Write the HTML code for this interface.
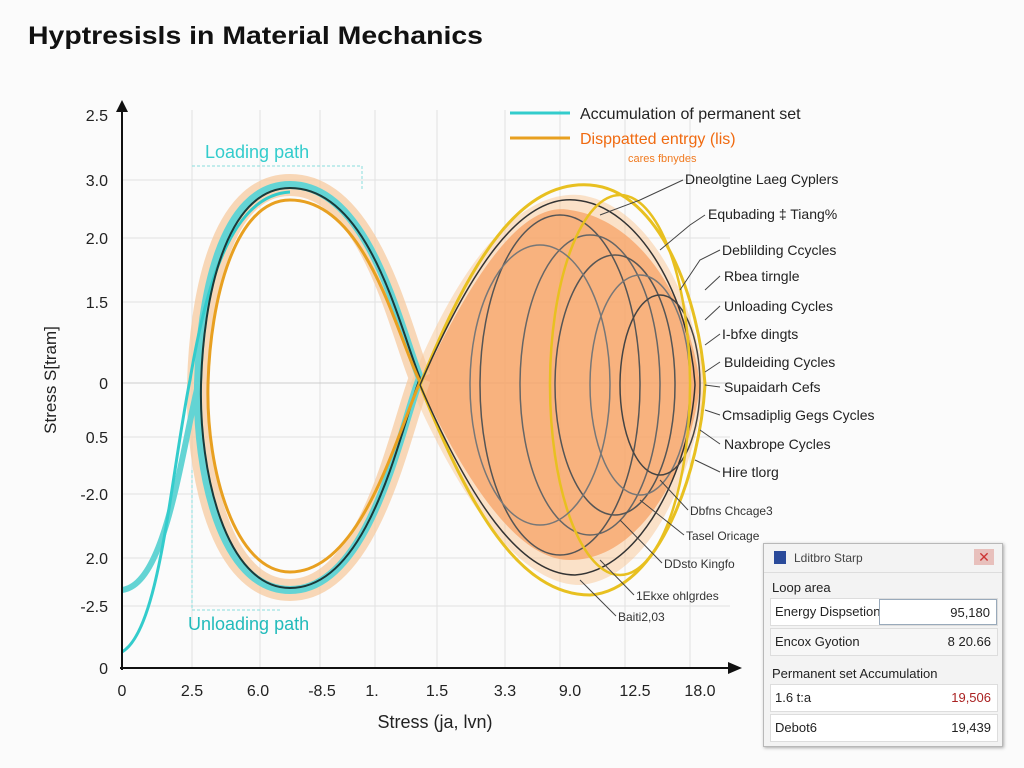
<!DOCTYPE html>
<html><head><meta charset="utf-8"><style>
body{margin:0;background:#fbfbfb;width:1024px;height:768px;overflow:hidden;font-family:"Liberation Sans",sans-serif;}
svg{position:absolute;left:0;top:0}
.dlg{position:absolute;left:763px;top:543px;width:238px;height:202px;background:#f3f3f3;border:1px solid #b8b8b8;box-shadow:1px 1px 3px #aaa;font-size:13px;color:#222}
.row{position:absolute;left:6px;width:226px;height:26px;background:#fff;border:1px solid #ddd}
.row span{position:absolute;top:5px}
</style></head><body>
<svg width="1024" height="768" viewBox="0 0 1024 768">
<text x="28" y="44" font-size="25" font-weight="bold" fill="#111" textLength="455" lengthAdjust="spacingAndGlyphs">Hyptresisls in Material Mechanics</text>
<g stroke="#e2e2e2" stroke-width="1">
<line x1="192" y1="110" x2="192" y2="668"/><line x1="260" y1="110" x2="260" y2="668"/><line x1="320" y1="110" x2="320" y2="668"/><line x1="375" y1="110" x2="375" y2="668"/><line x1="437" y1="110" x2="437" y2="668"/><line x1="505" y1="110" x2="505" y2="668"/><line x1="560" y1="110" x2="560" y2="668"/><line x1="625" y1="110" x2="625" y2="668"/><line x1="690" y1="110" x2="690" y2="668"/>
<line x1="122" y1="180" x2="730" y2="180"/><line x1="122" y1="238" x2="730" y2="238"/><line x1="122" y1="302" x2="730" y2="302"/><line x1="122" y1="383" x2="730" y2="383" stroke="#ccc"/><line x1="122" y1="437" x2="730" y2="437"/><line x1="122" y1="494" x2="730" y2="494"/><line x1="122" y1="558" x2="730" y2="558"/><line x1="122" y1="606" x2="730" y2="606"/>
</g>
<path d="M420 385 C470 280,520 200,570 210 C640 220,690 300,700 385 C690 470,640 560,570 560 C520 560,470 490,420 385Z" fill="#f5894a" opacity="0.75"/>
<path d="M410 385 C460 260,520 190,580 195 C650 205,695 300,705 385 C695 470,650 580,580 585 C520 585,460 500,410 385Z" fill="#f8c08a" opacity="0.45"/>
<!-- left lobe -->
<path d="M420 378 C400 330,370 185,290 185 C220 185,200 300,198 385 C196 470,220 590,290 590 C370 590,400 430,420 378" fill="none" stroke="#f7c79a" stroke-width="22" opacity="0.7"/>
<path d="M420 378 C400 330,370 185,290 185 C220 185,200 300,198 385 C196 470,220 590,290 590 C370 590,400 430,420 378" fill="none" stroke="#63d4d4" stroke-width="8"/>
<path d="M122 590 C165 585,180 460,198 385" fill="none" stroke="#63d4d4" stroke-width="6"/>
<path d="M122 652 C160 630,170 480,190 380 C205 290,230 195,290 192" fill="none" stroke="#3cc" stroke-width="3"/>
<path d="M420 378 C400 330,370 188,290 188 C225 188,203 300,201 385 C199 470,225 588,290 588 C370 588,400 430,420 378" fill="none" stroke="#1a3a3a" stroke-width="2"/>
<path d="M420 382 C395 330,365 200,290 200 C235 200,210 300,208 385 C206 470,235 572,290 572 C360 572,395 440,420 382" fill="none" stroke="#e8a020" stroke-width="3"/>
<g fill="none" stroke-width="1.5">
<path d="M420 385 C470 260,520 180,590 185 C660 190,700 300,705 385 C700 470,660 590,590 595 C520 595,470 510,420 385" stroke="#e8c020" stroke-width="3"/>
<path d="M420 385 C470 270,520 195,575 200 C640 205,690 300,695 385 C690 470,640 570,575 575 C520 575,470 500,420 385" stroke="#333"/>
<ellipse cx="560" cy="385" rx="80" ry="170" stroke="#555"/>
<ellipse cx="590" cy="385" rx="70" ry="150" stroke="#666"/>
<ellipse cx="615" cy="385" rx="60" ry="130" stroke="#555"/>
<ellipse cx="640" cy="385" rx="50" ry="110" stroke="#777"/>
<ellipse cx="660" cy="385" rx="40" ry="90" stroke="#444"/>
<ellipse cx="620" cy="385" rx="70" ry="190" stroke="#e8c020" stroke-width="2.5"/>
<ellipse cx="540" cy="385" rx="70" ry="140" stroke="#777"/>
</g>
<line x1="122" y1="670" x2="122" y2="108" stroke="#111" stroke-width="2"/>
<path d="M116 112 L122 100 L128 112Z" fill="#111"/>
<line x1="120" y1="668" x2="730" y2="668" stroke="#111" stroke-width="2"/>
<path d="M728 662 L742 668 L728 674Z" fill="#111"/>
<g font-size="16" fill="#222" text-anchor="end">
<text x="108" y="121">2.5</text><text x="108" y="186">3.0</text><text x="108" y="244">2.0</text><text x="108" y="308">1.5</text><text x="108" y="389">0</text><text x="108" y="443">0.5</text><text x="108" y="500">-2.0</text><text x="108" y="564">2.0</text><text x="108" y="612">-2.5</text><text x="108" y="674">0</text>
</g>
<g font-size="16" fill="#222" text-anchor="middle">
<text x="122" y="696">0</text><text x="192" y="696">2.5</text><text x="258" y="696">6.0</text><text x="322" y="696">-8.5</text><text x="372" y="696">1.</text><text x="437" y="696">1.5</text><text x="505" y="696">3.3</text><text x="570" y="696">9.0</text><text x="635" y="696">12.5</text><text x="700" y="696">18.0</text>
</g>
<text x="435" y="728" font-size="18" text-anchor="middle" fill="#222">Stress (ja, lvn)</text>
<text transform="translate(56,380) rotate(-90)" font-size="17" text-anchor="middle" fill="#222">Stress S[tram]</text>
<text x="205" y="158" font-size="18" fill="#3cc">Loading path</text>
<path d="M192 166 L362 166 L362 190" fill="none" stroke="#8dd" stroke-dasharray="3 2"/>
<text x="188" y="630" font-size="18" fill="#2bb">Unloading path</text>
<path d="M192 470 L192 610 L280 610" fill="none" stroke="#8dd" stroke-dasharray="3 2"/>
<line x1="510" y1="113" x2="570" y2="113" stroke="#3cc" stroke-width="3"/>
<text x="580" y="119" font-size="16" fill="#222">Accumulation of permanent set</text>
<line x1="510" y1="138" x2="570" y2="138" stroke="#e8a020" stroke-width="3"/>
<text x="580" y="144" font-size="16" fill="#f06a10">Disppatted entrgy (lis)</text>
<text x="628" y="162" font-size="11" fill="#f07a20">cares fbnydes</text>
<g font-size="14" fill="#222">
<text x="685" y="184">Dneolgtine Laeg Cyplers</text>
<text x="708" y="219">Equbading ‡ Tiang%</text>
<text x="722" y="255">Deblilding Ccycles</text>
<text x="724" y="281">Rbea tirngle</text>
<text x="724" y="311">Unloading Cycles</text>
<text x="722" y="339">I-bfxe dingts</text>
<text x="724" y="367">Buldeiding Cycles</text>
<text x="724" y="392">Supaidarh Cefs</text>
<text x="722" y="420">Cmsadiplig Gegs Cycles</text>
<text x="724" y="449">Naxbrope Cycles</text>
<text x="722" y="477">Hire tlorg</text>
</g>
<g font-size="12" fill="#333">
<text x="690" y="515">Dbfns Chcage3</text>
<text x="686" y="540">Tasel Oricage</text>
<text x="664" y="568">DDsto Kingfo</text>
<text x="636" y="600">1Ekxe ohlgrdes</text>
<text x="618" y="621">Baiti2,03</text>
</g>
<g stroke="#444" stroke-width="1" fill="none">
<path d="M683 180 L640 200 L600 215"/><path d="M705 215 L690 225 L660 250"/><path d="M720 250 L700 260 L680 290"/><path d="M720 276 L705 290"/><path d="M720 306 L705 320"/><path d="M720 334 L705 345"/><path d="M720 362 L705 372"/><path d="M720 387 L705 385"/><path d="M720 415 L705 410"/><path d="M720 444 L700 430"/><path d="M720 472 L695 460"/>
<path d="M688 510 L660 480"/><path d="M684 535 L640 500"/><path d="M662 563 L620 520"/><path d="M634 595 L600 560"/><path d="M616 616 L580 580"/>
</g>
</svg>
<div class="dlg">
<div style="position:absolute;left:0;top:0;right:0;height:28px;border-bottom:1px solid #ddd">
<div style="position:absolute;left:10px;top:7px;width:12px;height:13px;background:#2a4a9a"></div>
<span style="position:absolute;left:30px;top:7px;font-size:12px;color:#444">Lditbro Starp</span>
<div style="position:absolute;right:8px;top:5px;width:20px;height:16px;background:#e8c0bc;color:#c33;text-align:center;font-size:14px;line-height:16px">✕</div>
</div>
<div style="position:absolute;left:8px;top:36px;font-size:13px">Loop area</div>
<div class="row" style="top:54px"><span style="left:4px">Energy Dispsetion</span><div style="position:absolute;left:108px;top:0;right:0;bottom:0;border:1px solid #9ab"><span style="right:6px">95,180</span></div></div>
<div class="row" style="top:84px;background:#f7f7f7"><span style="left:4px">Encox Gyotion</span><span style="right:6px">8 20.66</span></div>
<div style="position:absolute;left:8px;top:122px;font-size:13px">Permanent set Accumulation</div>
<div class="row" style="top:140px"><span style="left:4px">1.6 t:a</span><span style="right:6px;color:#a22">19,506</span></div>
<div class="row" style="top:170px"><span style="left:4px">Debot6</span><span style="right:6px">19,439</span></div>
</div>
</body></html>
